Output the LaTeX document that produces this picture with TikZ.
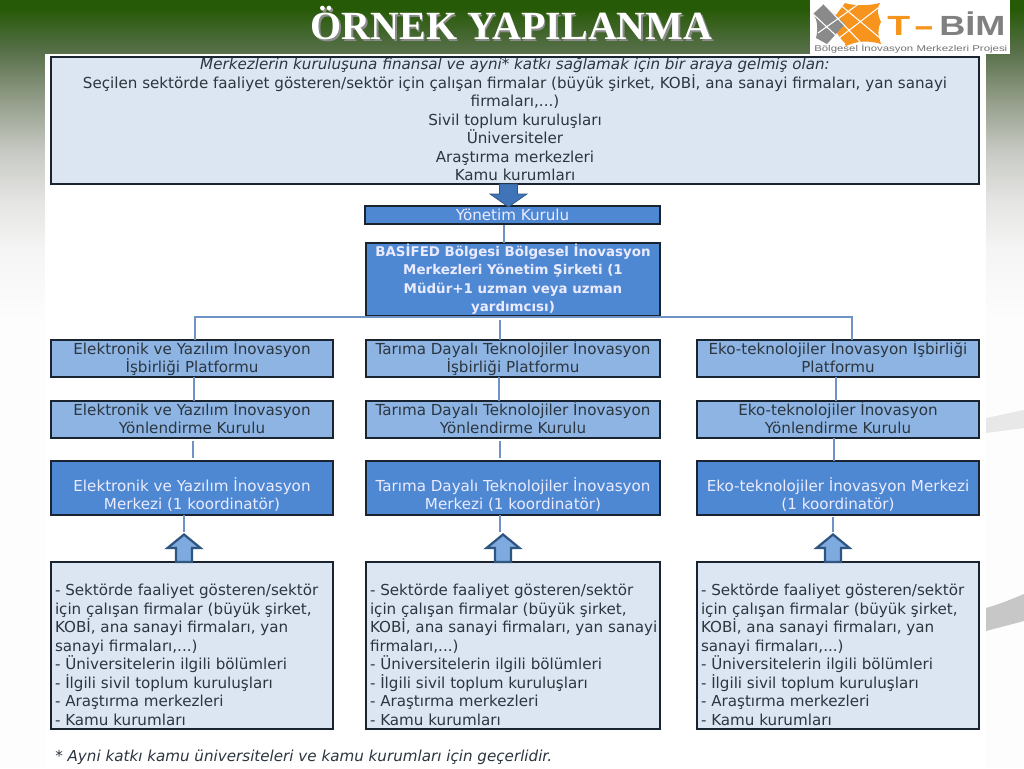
\documentclass[tikz,border=0pt]{standalone}
\usepackage{fontspec}
\setmainfont{DejaVu Sans}
\newfontfamily\titlefont{Liberation Serif}
\newfontfamily\logofont{Liberation Sans}
\usetikzlibrary{calc}
\definecolor{bgA}{HTML}{265A06}
\definecolor{bgB}{HTML}{566F48}
\definecolor{bgC}{HTML}{939D89}
\definecolor{bgD}{HTML}{C6C9C3}
\definecolor{bgE}{HTML}{E4E4E2}
\definecolor{bgF}{HTML}{F5F5F5}
\definecolor{bgG}{HTML}{FDFDFD}
\definecolor{lightbox}{HTML}{DCE6F2}
\definecolor{midbox}{HTML}{8DB4E3}
\definecolor{darkbox}{HTML}{4F88D2}
\definecolor{linecol}{HTML}{6F93C4}
\definecolor{edgecol}{HTML}{1A2430}
\definecolor{txt}{HTML}{2C3640}
\definecolor{arrowdark}{HTML}{3F74B8}
\definecolor{arrowedge}{HTML}{2F5680}
\definecolor{arrowlight}{HTML}{7FAAE0}
\definecolor{logoO}{HTML}{F7941E}
\definecolor{logoG}{HTML}{8A8A8A}
\tikzset{
  basebox/.style={draw=edgecol,line width=1.4pt,rectangle,inner sep=0pt,outer sep=0pt,anchor=north west},
  lightnode/.style={basebox,fill=lightbox,text=txt},
  midnode/.style={basebox,fill=midbox,text=txt},
  darknode/.style={basebox,fill=darkbox,text=white!92!blue},
  tree/.style={draw=linecol,line width=1.3pt},
  bodyfont/.style={font=\fontsize{11.35}{13.875}\selectfont},
  titlestyle/.style={font=\titlefont\bfseries\fontsize{30}{32}\selectfont,anchor=center},
  logostyle/.style={font=\logofont\bfseries\fontsize{20.8}{24}\selectfont,anchor=base west,inner sep=0pt}
}
\newlength{\boxw}
% \bx{name}{style}{x1}{y1}{x2}{y2}{alignment}{extra space on top}{text}
\newcommand{\bx}[9]{%
  \pgfmathsetlength{\boxw}{(#5-#3-8)*0.75pt}%
  \node[#2,minimum width={(#5-#3)*0.75pt},minimum height={(#6-#4)*0.75pt}] (#1) at (#3,#4)
    {\vbox to 0pt{\hsize=\boxw\parindent=0pt\lineskiplimit=-20pt\vss\vskip 1.5pt\vskip #8\relax #7 #9\par\vss}};}
% \upper{box below}{centre x}
\newcommand{\upper}[2]{%
  \coordinate (ax) at (#2,0);
  \fill[arrowlight,draw=arrowedge,line width=1.7pt,line join=miter]
    ($(ax |- #1.north)+(-8,0)$) -- ++(0,-14) -- ++(-8.5,0) -- ++(16.5,-13.5) -- ++(16.5,13.5) -- ++(-8.5,0) -- ++(0,14) -- cycle;}
\begin{document}
\begin{tikzpicture}[x=0.75pt,y=-0.75pt]
\useasboundingbox (0,0) rectangle (1024,768);
% background
\fill[bgA] (0,0) rectangle (1024,8);
\shade[top color=bgA,bottom color=bgB] (0,8) rectangle (1024,50.2);
\shade[top color=bgB,bottom color=bgC] (0,50) rectangle (1024,100.2);
\shade[top color=bgC,bottom color=bgD] (0,100) rectangle (1024,150.2);
\shade[top color=bgD,bottom color=bgE] (0,150) rectangle (1024,200.2);
\shade[top color=bgE,bottom color=bgF] (0,200) rectangle (1024,250.2);
\shade[top color=bgF,bottom color=bgG] (0,250) rectangle (1024,320.2);
\fill[bgG] (0,320) rectangle (1024,768);
% swooshes
\fill[black!9] (986,418) -- (1024,410) -- (1024,428) -- (986,433) -- cycle;
\fill[black!22] (986,608) .. controls (1000,604) and (1012,599) .. (1024,594) -- (1024,621) -- (986,631) -- cycle;
% white panel
\fill[white] (45,54) rectangle (986,768);
% title
\node[titlestyle,text=black!45] (titleshadow) at (513,25) {ÖRNEK YAPILANMA};
\node[titlestyle,text=white] (title) at (511.5,23.5) {ÖRNEK YAPILANMA};
% logo
\fill[white] (810,0) rectangle (1010,54);
\fill[logoO] (845,3) .. controls (855,6) and (868,6) .. (880,3) .. controls (876,10) and (878,15) .. (881,22) .. controls (877,30) and (878,35) .. (881,44) .. controls (868,40) and (857,41) .. (846,46) -- (830,23) -- cycle;
\fill[logoG] (813,14) -- (824,4) -- (845,24) -- (827,44) -- (816,38) .. controls (818,30) and (818,20) .. (813,14) -- cycle;
\draw[white,line width=0.8pt] (824,4) -- (864,46) (818,33) -- (860,3) (838,3) -- (880,38) (830,45) -- (878,8) (813,14) -- (845,44);
\node[logostyle,text=logoO] (logoT) at (887,35) {\scalebox{1.35}[1]{T}};
\node[logostyle,text=logoO] (logoD) at (913,35) {\scalebox{2.3}[1]{-}};
\node[logostyle,text=black!50] (logoB) at (939,35) {\scalebox{1.3}[1]{BİM}};
\node[font=\logofont\fontsize{6.3}{8}\selectfont,anchor=west,text=black!55,inner sep=0pt] (logoS) at (814,48.5) {\scalebox{1.36}[1]{Bölgesel İnovasyon Merkezleri Projesi}};
% top box
\bx{top}{lightnode,bodyfont}{51}{57}{979}{184}{\centering}{0pt}{\strut\textit{Merkezlerin kuruluşuna finansal ve ayni* katkı sağlamak için bir araya gelmiş olan:}\\
Seçilen sektörde faaliyet gösteren/sektör için çalışan firmalar (büyük şirket, KOBİ, ana sanayi firmaları, yan sanayi\\firmaları,...)\\
Sivil toplum kuruluşları\\Üniversiteler\\Araştırma merkezleri\\Kamu kurumları\strut}
\bx{yon}{darknode,bodyfont}{365}{206}{660}{224}{\centering}{1pt}{\strut Yönetim Kurulu\strut}
\bx{bas}{darknode,font=\bfseries\fontsize{10.05}{13.875}\selectfont}{366}{243}{660}{316}{\centering}{0pt}{\strut BASİFED Bölgesi Bölgesel İnovasyon\\Merkezleri Yönetim Şirketi (1\\Müdür+1 uzman veya uzman\\yardımcısı)\strut}
% columns
\bx{p1}{midnode,bodyfont}{51}{340}{333}{377}{\centering}{0pt}{\strut Elektronik ve Yazılım İnovasyon\\İşbirliği Platformu\strut}
\bx{p2}{midnode,bodyfont}{366}{340}{660}{377}{\centering}{0pt}{\strut Tarıma Dayalı Teknolojiler İnovasyon\\İşbirliği Platformu\strut}
\bx{p3}{midnode,bodyfont}{697}{340}{979}{377}{\centering}{0pt}{\strut Eko-teknolojiler İnovasyon İşbirliği\\Platformu\strut}
\bx{k1}{midnode,bodyfont}{51}{401}{333}{438}{\centering}{0pt}{\strut Elektronik ve Yazılım İnovasyon\\Yönlendirme Kurulu\strut}
\bx{k2}{midnode,bodyfont}{366}{401}{660}{438}{\centering}{0pt}{\strut Tarıma Dayalı Teknolojiler İnovasyon\\Yönlendirme Kurulu\strut}
\bx{k3}{midnode,bodyfont}{697}{401}{979}{438}{\centering}{0pt}{\strut Eko-teknolojiler İnovasyon\\Yönlendirme Kurulu\strut}
\bx{m1}{darknode,bodyfont}{51}{461}{333}{515}{\centering}{11.25pt}{\strut Elektronik ve Yazılım İnovasyon\\Merkezi (1 koordinatör)\strut}
\bx{m2}{darknode,bodyfont}{366}{461}{660}{515}{\centering}{11.25pt}{\strut Tarıma Dayalı Teknolojiler İnovasyon\\Merkezi (1 koordinatör)\strut}
\bx{m3}{darknode,bodyfont}{697}{461}{979}{515}{\centering}{11.25pt}{\strut Eko-teknolojiler İnovasyon Merkezi\\(1 koordinatör)\strut}
\bx{l1}{lightnode,bodyfont}{51}{562}{333}{729}{\raggedright}{1.5pt}{\strut\\- Sektörde faaliyet gösteren/sektör\\için çalışan firmalar (büyük şirket,\\KOBİ, ana sanayi firmaları, yan\\sanayi firmaları,...)\\- Üniversitelerin ilgili bölümleri\\- İlgili sivil toplum kuruluşları\\- Araştırma merkezleri\\- Kamu kurumları\strut}
\bx{l2}{lightnode,bodyfont}{366}{562}{660}{729}{\raggedright}{1.5pt}{\strut\\- Sektörde faaliyet gösteren/sektör\\için çalışan firmalar (büyük şirket,\\\mbox{KOBİ, ana sanayi firmaları, yan sanayi}\\firmaları,...)\\- Üniversitelerin ilgili bölümleri\\- İlgili sivil toplum kuruluşları\\- Araştırma merkezleri\\- Kamu kurumları\strut}
\bx{l3}{lightnode,bodyfont}{697}{562}{979}{729}{\raggedright}{1.5pt}{\strut\\- Sektörde faaliyet gösteren/sektör\\için çalışan firmalar (büyük şirket,\\KOBİ, ana sanayi firmaları, yan\\sanayi firmaları,...)\\- Üniversitelerin ilgili bölümleri\\- İlgili sivil toplum kuruluşları\\- Araştırma merkezleri\\- Kamu kurumları\strut}
% footnote
\node[font=\itshape\fontsize{11.35}{13}\selectfont,text=txt,anchor=west,inner sep=0pt] (foot) at (55,757) {* Ayni katkı kamu üniversiteleri ve kamu kurumları için geçerlidir.};
% tree
\coordinate (busA) at (195,317);
\coordinate (busB) at (500,317);
\coordinate (busC) at (852,317);
\coordinate (stem) at (504,225);
\draw[tree] (stem) -- (stem |- bas.north);
\draw[tree,line width=1pt] (busA |- p1.north) -- (busA) -- (busC) -- (busC |- p3.north);
\draw[tree] (busB) ++(0,3) -- (busB |- p2.north);
\coordinate (ca) at (194,0); \coordinate (cb) at (193,0); \coordinate (cc) at (184,0);
\coordinate (da) at (499,0); \coordinate (db) at (500,0); \coordinate (dc) at (500,0);
\coordinate (ea) at (836,0); \coordinate (eb) at (834,0); \coordinate (ec) at (833,0);
\draw[tree] (ca |- p1.south) -- (ca |- k1.north);
\draw[tree] ($(cb |- k1.south)+(0,3)$) -- ($(cb |- m1.north)+(0,-3)$);
\draw[tree] (cc |- m1.south) -- ++(0,17);
\draw[tree] (da |- p2.south) -- (da |- k2.north);
\draw[tree] ($(db |- k2.south)+(0,3)$) -- ($(db |- m2.north)+(0,-3)$);
\draw[tree] (dc |- m2.south) -- ++(0,17);
\draw[tree] (ea |- p3.south) -- (ea |- k3.north);
\draw[tree] (eb |- k3.south) -- (eb |- m3.north);
\draw[tree] ($(ec |- m3.south)+(0,2)$) -- ++(0,15);
\upper{l1}{184}
\upper{l2}{503}
\upper{l3}{833}
% down arrow
\coordinate (dx) at (508.5,0);
\fill[arrowdark,draw=arrowedge,line width=0.5pt] ($(dx |- top.south)+(-9,0)$) -- ++(0,10) -- ++(-9.5,0) -- ($(dx |- yon.north)+(0,1)$) -- ($(dx |- top.south)+(18.5,10)$) -- ($(dx |- top.south)+(9,10)$) -- ($(dx |- top.south)+(9,0)$) -- cycle;
\end{tikzpicture}
\end{document}
